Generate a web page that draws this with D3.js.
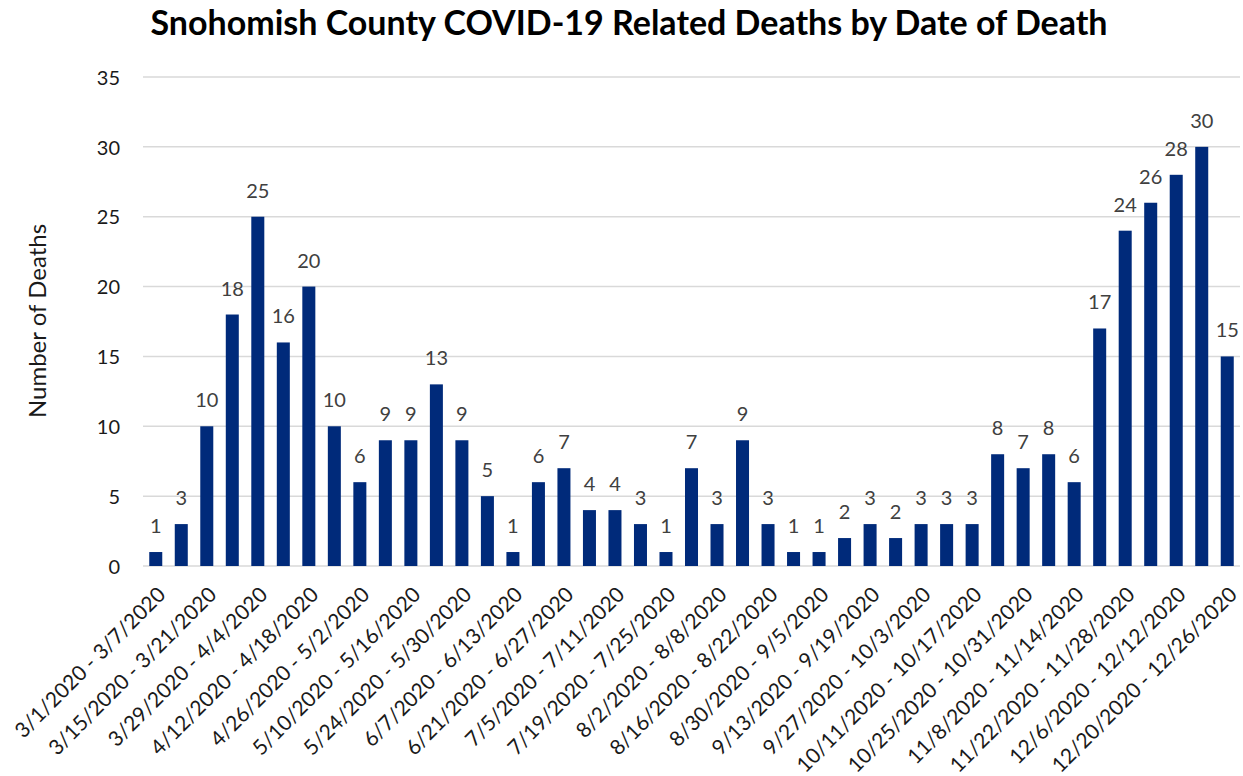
<!DOCTYPE html>
<html>
<head>
<meta charset="utf-8">
<script src="https://cdn.jsdelivr.net/npm/d3@7"></script>
<style>
  body { margin: 0; background: #fff; }
  svg text { font-family: Lato, "Open Sans", sans-serif; }
</style>
</head>
<body>
<div id="chart"></div>
<script>
var weeks = [
    '3/1/2020 - 3/7/2020', '3/8/2020 - 3/14/2020', '3/15/2020 - 3/21/2020',
    '3/22/2020 - 3/28/2020', '3/29/2020 - 4/4/2020', '4/5/2020 - 4/11/2020',
    '4/12/2020 - 4/18/2020', '4/19/2020 - 4/25/2020', '4/26/2020 - 5/2/2020',
    '5/3/2020 - 5/9/2020', '5/10/2020 - 5/16/2020', '5/17/2020 - 5/23/2020',
    '5/24/2020 - 5/30/2020', '5/31/2020 - 6/6/2020', '6/7/2020 - 6/13/2020',
    '6/14/2020 - 6/20/2020', '6/21/2020 - 6/27/2020', '6/28/2020 - 7/4/2020',
    '7/5/2020 - 7/11/2020', '7/12/2020 - 7/18/2020', '7/19/2020 - 7/25/2020',
    '7/26/2020 - 8/1/2020', '8/2/2020 - 8/8/2020', '8/9/2020 - 8/15/2020',
    '8/16/2020 - 8/22/2020', '8/23/2020 - 8/29/2020', '8/30/2020 - 9/5/2020',
    '9/6/2020 - 9/12/2020', '9/13/2020 - 9/19/2020', '9/20/2020 - 9/26/2020',
    '9/27/2020 - 10/3/2020', '10/4/2020 - 10/10/2020', '10/11/2020 - 10/17/2020',
    '10/18/2020 - 10/24/2020', '10/25/2020 - 10/31/2020', '11/1/2020 - 11/7/2020',
    '11/8/2020 - 11/14/2020', '11/15/2020 - 11/21/2020', '11/22/2020 - 11/28/2020',
    '11/29/2020 - 12/5/2020', '12/6/2020 - 12/12/2020', '12/13/2020 - 12/19/2020',
    '12/20/2020 - 12/26/2020'
];

var deaths = [
    1, 3, 10, 18, 25, 16, 20, 10, 6, 9,
    9, 13, 9, 5, 1, 6, 7, 4, 4, 3,
    1, 7, 3, 9, 3, 1, 1, 2, 3, 2,
    3, 3, 3, 8, 7, 8, 6, 17, 24, 26,
    28, 30, 15
];

var yTicks = [0, 5, 10, 15, 20, 25, 30, 35];

var width = 1243,
    height = 776;

var margin = {top: 77, right: 3, bottom: 210, left: 143};

var svg = d3.select('#chart')
    .append('svg')
    .attr('width', width)
    .attr('height', height);

var x = d3.scaleBand()
    .domain(weeks)
    .range([margin.left, width - margin.right])
    .paddingInner(0.49)
    .paddingOuter(0.245);

var y = d3.scaleLinear()
    .domain([0, 35])
    .range([height - margin.bottom, margin.top]);

// gridlines
svg.append('g')
    .selectAll('line')
    .data(yTicks)
    .enter()
    .append('line')
    .attr('x1', margin.left)
    .attr('x2', width - margin.right)
    .attr('y1', function(d) { return y(d); })
    .attr('y2', function(d) { return y(d); })
    .attr('stroke', '#d9d9d9')
    .attr('stroke-width', 1.5);

// y axis labels
var yAxis = svg.append('g')
    .attr('transform', 'translate(' + (margin.left - 23) + ',0)')
    .call(d3.axisLeft(y).tickValues(yTicks).tickSize(0).tickPadding(0));
yAxis.select('.domain').remove();
yAxis.selectAll('text')
    .attr('font-size', 20)
    .attr('fill', '#1a1a1a')
    .attr('dy', '0.36em');

// bars
svg.append('g')
    .selectAll('rect')
    .data(deaths)
    .enter()
    .append('rect')
    .attr('x', function(d, i) { return x(weeks[i]); })
    .attr('width', x.bandwidth())
    .attr('y', function(d) { return y(d); })
    .attr('height', function(d) { return y(0) - y(d); })
    .attr('fill', '#002a7a');

// value labels
svg.append('g')
    .selectAll('text')
    .data(deaths)
    .enter()
    .append('text')
    .attr('x', function(d, i) { return x(weeks[i]) + x.bandwidth() / 2; })
    .attr('y', function(d) { return y(d) - 19; })
    .attr('text-anchor', 'middle')
    .attr('font-size', 20)
    .attr('fill', '#404040')
    .text(function(d) { return d; });

// x axis labels, every other week
var xAxis = svg.append('g')
    .attr('transform', 'translate(0,' + y(0) + ')')
    .call(d3.axisBottom(x)
        .tickValues(weeks.filter(function(d, i) { return i % 2 === 0; }))
        .tickSize(0)
        .tickPadding(0));
xAxis.select('.domain').remove();
xAxis.selectAll('text')
    .attr('font-size', 21)
    .attr('fill', '#1a1a1a')
    .attr('text-anchor', 'end')
    .attr('dy', 0)
    .attr('transform', 'translate(11,30) rotate(-45)');

// title
svg.append('text')
    .attr('x', 629)
    .attr('y', 35)
    .attr('text-anchor', 'middle')
    .attr('font-size', 34)
    .attr('font-weight', 'bold')
    .attr('fill', '#000')
    .text('Snohomish County COVID-19 Related Deaths by Date of Death');

// y axis title
svg.append('text')
    .attr('transform', 'translate(46,321) rotate(-90)')
    .attr('text-anchor', 'middle')
    .attr('font-size', 24)
    .attr('fill', '#1a1a1a')
    .text('Number of Deaths');
</script>
</body>
</html>
